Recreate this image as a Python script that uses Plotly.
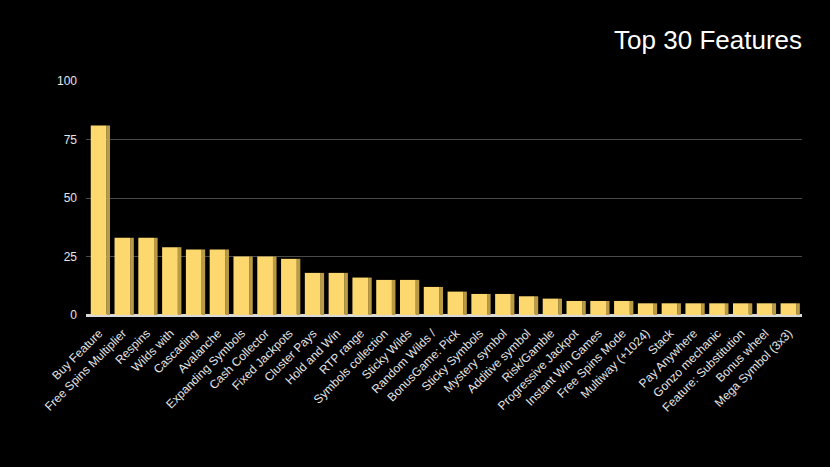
import plotly.graph_objects as go

categories = [
    "Buy Feature", "Free Spins Multiplier", "Respins", "Wilds with", "Cascading",
    "Avalanche", "Expanding Symbols", "Cash Collector", "Fixed Jackpots", "Cluster Pays",
    "Hold and Win", "RTP range", "Symbols collection", "Sticky Wilds", "Random Wilds /",
    "BonusGame: Pick", "Sticky Symbols", "Mystery symbol", "Additive symbol", "Risk/Gamble",
    "Progressive Jackpot", "Instant Win Games", "Free Spins Mode", "Multiway (+1024)", "Stack",
    "Pay Anywhere", "Gonzo mechanic", "Feature: Substitution", "Bonus wheel", "Mega Symbol (3x3)",
]
values = [81, 33, 33, 29, 28, 28, 25, 25, 24, 18,
          18, 16, 15, 15, 12, 10, 9, 9, 8, 7,
          6, 6, 6, 5, 5, 5, 5, 5, 5, 5]
y_ticks = [0, 25, 50, 75, 100]

W, H = 830, 467
fig = go.Figure()
# side face (darker)
fig.add_trace(go.Bar(
    x=categories, y=values, width=0.15, offset=0.31,
    marker=dict(color="#B99A45", line=dict(width=0)), hoverinfo="skip", showlegend=False))
# front face
fig.add_trace(go.Bar(
    x=categories, y=values, width=0.66, offset=-0.35,
    marker=dict(color="#FDD86E", line=dict(width=0)), showlegend=False))

fig.update_layout(
    width=W, height=H,
    paper_bgcolor="#000000", plot_bgcolor="#000000",
    barmode="overlay",
    margin=dict(l=86, r=28, t=81, b=152),
    font=dict(family="Liberation Sans, Arial, sans-serif", color="#e6e6e6", size=12),
    title=dict(text="Top 30 Features", x=1.0, xanchor="right", xref="paper",
               y=0.915, yanchor="middle",
               font=dict(size=26, color="#ffffff", family="Liberation Sans, Arial, sans-serif")),
    xaxis=dict(tickangle=-45, showgrid=False, showline=False, ticks="",
               tickfont=dict(size=12, color="#e6e6e6"), range=[-0.55, 29.55],
               ticklabelstandoff=8),
    yaxis=dict(range=[0, 100], tickvals=y_ticks, showgrid=True, gridcolor="#4a4a4a",
               gridwidth=1, zeroline=True, zerolinecolor="#d9d9d9", zerolinewidth=3,
               tickfont=dict(size=12, color="#e6e6e6"), ticks="", ticklabelstandoff=8),
)
fig.write_html("out.html")
